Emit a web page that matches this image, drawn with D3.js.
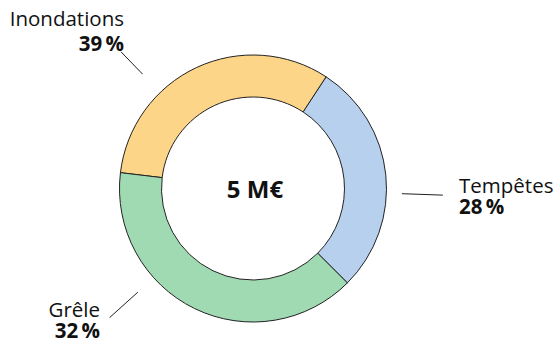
<!DOCTYPE html>
<html>
<head>
<meta charset="utf-8">
<script src="https://cdn.jsdelivr.net/npm/d3@7"></script>
<style>
  body { margin: 0; background: #fff; }
  svg text { font-family: "Open Sans", sans-serif; fill: #111; }
</style>
</head>
<body>
<div id="chart"></div>
<script>
// parts of the 5 M€ total
const categories = ['Tempêtes', 'Grêle', 'Inondations']
const shares = [28, 32, 39]
const totalLabel = '5 M€'
// colours of the arcs in the order they come around the ring
const sliceColors = ['#a0dab3', '#fdd589', '#b6d0ee']

const width = 553, height = 347
const cx = 253, cy = 188.5
const outerR = 133.5, innerR = 91.5

const svg = d3.select('#chart').append('svg')
    .attr('width', width)
    .attr('height', height)

// default d3.pie sorting (largest first) starting at 3π/4
const pie = d3.pie().startAngle(Math.PI * 0.75).endAngle(Math.PI * 2.75)
const arc = d3.arc().innerRadius(innerR).outerRadius(outerR)

const g = svg.append('g').attr('transform', `translate(${cx},${cy})`)

g.selectAll('path')
    .data(pie(shares))
    .join('path')
    .attr('d', arc)
    .attr('fill', d => sliceColors[d.index])
    .attr('stroke', '#222')
    .attr('stroke-width', 1)

g.append('text')
    .attr('x', 2)
    .attr('y', 9)
    .attr('text-anchor', 'middle')
    .attr('font-size', 24)
    .attr('font-weight', 700)
    .text(totalLabel)

// label placement: leader line angle (deg, clockwise from top), radii, text pos
const labelPos = {
    'Tempêtes': { a: 92, r0: 149, r1: 190, x: 459, y: 193, dy: 20.5, anchor: 'start' },
    'Grêle': { a: 228, r0: 155, r1: 193, x: 100, y: 317, dy: 21, anchor: 'end' },
    'Inondations': { a: 316, r0: 159, r1: 190, x: 124, y: 25.5, dy: 25, anchor: 'end' }
}

categories.forEach((c, i) => {
    const p = labelPos[c]
    const rad = p.a * Math.PI / 180
    svg.append('line')
        .attr('x1', cx + p.r0 * Math.sin(rad))
        .attr('y1', cy - p.r0 * Math.cos(rad))
        .attr('x2', cx + p.r1 * Math.sin(rad))
        .attr('y2', cy - p.r1 * Math.cos(rad))
        .attr('stroke', '#222')
        .attr('stroke-width', 1)

    const t = svg.append('text')
        .attr('x', p.x)
        .attr('y', p.y)
        .attr('text-anchor', p.anchor)
        .attr('font-size', 20.5)
    t.append('tspan').text(c)
    t.append('tspan')
        .attr('x', p.x)
        .attr('dy', p.dy)
        .attr('font-weight', 700)
        .text(shares[i] + '\u2009%')
})
</script>
</body>
</html>
